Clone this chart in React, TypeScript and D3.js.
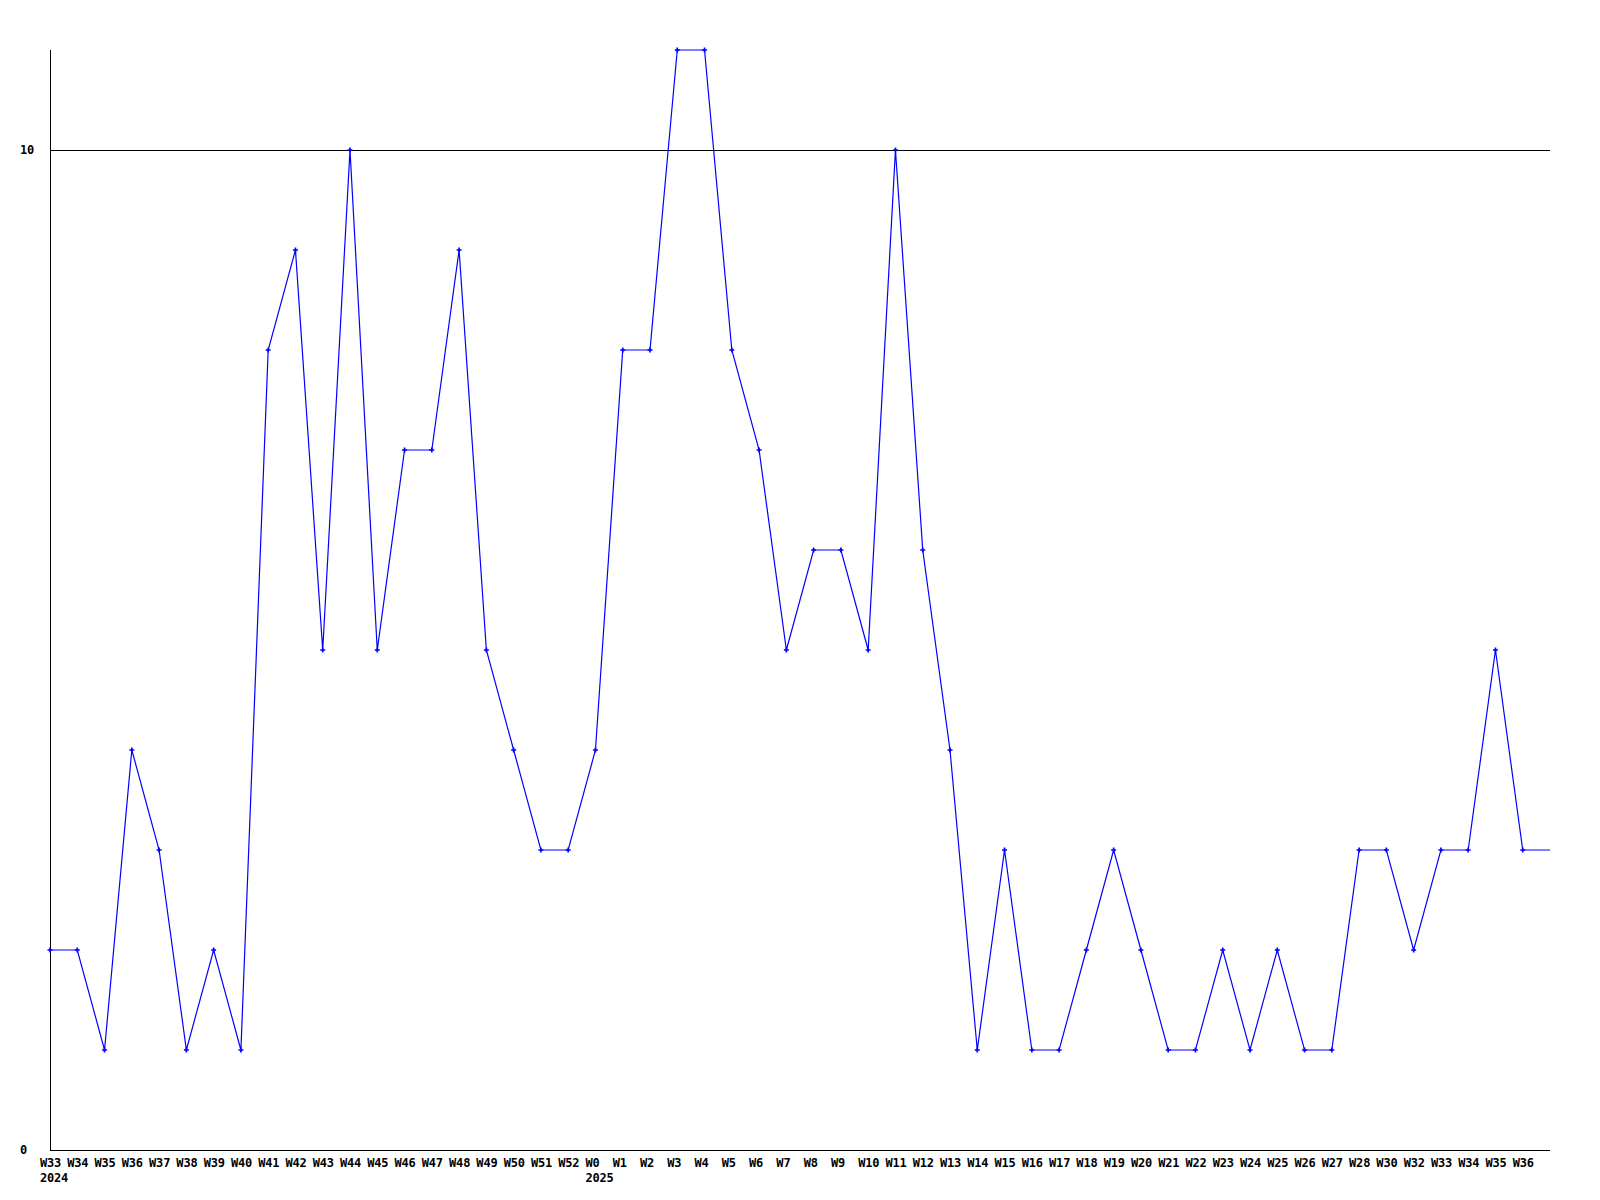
import * as d3 from 'd3'
import { useEffect, useRef } from 'react'

const weeks = [
  'W33', 'W34', 'W35', 'W36', 'W37', 'W38', 'W39', 'W40', 'W41', 'W42',
  'W43', 'W44', 'W45', 'W46', 'W47', 'W48', 'W49', 'W50', 'W51', 'W52',
  'W0', 'W1', 'W2', 'W3', 'W4', 'W5', 'W6', 'W7', 'W8', 'W9',
  'W10', 'W11', 'W12', 'W13', 'W14', 'W15', 'W16', 'W17', 'W18', 'W19',
  'W20', 'W21', 'W22', 'W23', 'W24', 'W25', 'W26', 'W27', 'W28', 'W30',
  'W32', 'W33', 'W34', 'W35', 'W36',
]
const counts = [
  2, 2, 1, 4, 3, 1, 2, 1, 8, 9,
  5, 10, 5, 7, 7, 9, 5, 4, 3, 3,
  4, 8, 8, 11, 11, 8, 7, 5, 6, 6,
  5, 10, 6, 4, 1, 3, 1, 1, 2, 3,
  2, 1, 1, 2, 1, 2, 1, 1, 3, 3,
  2, 3, 3, 5, 3,
]
// year labels shown under the week where the year starts
const years = [
  { at: 0, label: '2024' },
  { at: 20, label: '2025' },
]
const yTicks = [0, 10]

export default function App() {
  const ref = useRef<SVGSVGElement>(null)

  useEffect(() => {
    if (!ref.current) return
    const width = 1600
    const height = 1200
    const left = 50
    const right = 1550
    const top = 50
    const bottom = 1150

    const x = d3.scaleLinear().domain([0, weeks.length]).range([left, right])
    const y = d3.scaleLinear().domain([0, 11]).range([bottom, top])

    const svg = d3.select(ref.current)
      .attr('width', width)
      .attr('height', height)
    svg.selectAll('*').remove()

    svg.append('rect').attr('width', width).attr('height', height).attr('fill', '#fff')

    const font = "'DejaVu Sans Mono', monospace"

    // horizontal grid lines for the non-zero ticks
    svg.selectAll('line.grid').data(yTicks.filter(t => t > 0)).enter()
      .append('line')
      .attr('class', 'grid')
      .attr('x1', left).attr('x2', right)
      .attr('y1', d => y(d) + 0.5).attr('y2', d => y(d) + 0.5)
      .attr('stroke', '#000')
      .attr('shape-rendering', 'crispEdges')

    // axes
    svg.append('line')
      .attr('x1', left + 0.5).attr('x2', left + 0.5)
      .attr('y1', top).attr('y2', bottom)
      .attr('stroke', '#000').attr('shape-rendering', 'crispEdges')
    svg.append('line')
      .attr('x1', left).attr('x2', right)
      .attr('y1', bottom + 0.5).attr('y2', bottom + 0.5)
      .attr('stroke', '#000').attr('shape-rendering', 'crispEdges')

    svg.selectAll('text.ytick').data(yTicks).enter()
      .append('text')
      .attr('class', 'ytick')
      .attr('x', 20)
      .attr('y', d => y(d) + 4)
      .attr('font-family', font)
      .attr('font-weight', 'bold')
      .attr('font-size', 12)
      .attr('letter-spacing', -0.2)
      .text(d => d)

    svg.selectAll('text.xtick').data(weeks).enter()
      .append('text')
      .attr('class', 'xtick')
      .attr('x', (_d, i) => x(i) - 10)
      .attr('y', 1167)
      .attr('font-family', font)
      .attr('font-weight', 'bold')
      .attr('font-size', 12)
      .attr('letter-spacing', -0.2)
      .text(d => d)

    svg.selectAll('text.year').data(years).enter()
      .append('text')
      .attr('class', 'year')
      .attr('x', d => x(d.at) - 10)
      .attr('y', 1182)
      .attr('font-family', font)
      .attr('font-weight', 'bold')
      .attr('font-size', 12)
      .attr('letter-spacing', -0.2)
      .text(d => d.label)

    // data line, carried on flat to the right edge of the plot
    const pts: [number, number][] = counts.map((v, i) => [x(i), y(v)])
    pts.push([x(weeks.length), y(counts[counts.length - 1])])
    const line = d3.line()
    svg.append('path')
      .attr('d', line(pts))
      .attr('fill', 'none')
      .attr('stroke', '#0000ff')
      .attr('stroke-width', 1.2)

    const marker = d3.symbol().type(d3.symbolCross).size(14)
    svg.selectAll('path.pt').data(counts).enter()
      .append('path')
      .attr('class', 'pt')
      .attr('transform', (d, i) => `translate(${x(i)},${y(d)})`)
      .attr('d', marker())
      .attr('fill', '#0000ff')
  }, [])

  return (
    <div style={{ position: 'absolute', left: 0, top: 0 }}>
      <svg ref={ref} style={{ display: 'block' }} />
    </div>
  )
}
